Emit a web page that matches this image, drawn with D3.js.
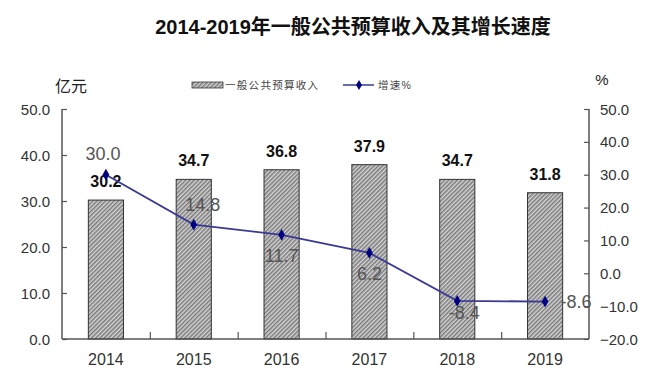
<!DOCTYPE html>
<html><head><meta charset="utf-8">
<script src="https://cdn.jsdelivr.net/npm/d3@7/dist/d3.min.js"></script>
<style>
html,body{margin:0;padding:0;background:#fff;}
svg{display:block;font-family:"Liberation Sans",Arial,"Noto Sans CJK SC",sans-serif;}
</style></head>
<body><svg id="c" width="659" height="381"></svg>
<script>
const years = ["2014","2015","2016","2017","2018","2019"];
const revenue = [30.2, 34.7, 36.8, 37.9, 34.7, 31.8];
const growth = [30.0, 14.8, 11.7, 6.2, -8.4, -8.6];
const leftTicks = [0, 10, 20, 30, 40, 50];
const rightTicks = [-20, -10, 0, 10, 20, 30, 40, 50];
const growthLabelPlace = ["above", "aboveRight", "below", "below", "belowRight", "right"];
const titleText = "2014-2019年一般公共预算收入及其增长速度";
const leftUnit = "亿元", rightUnit = "%";
const legendBar = "一般公共预算收入", legendLine = "增速%";

const svg = d3.select("#c");
const L = 62, R = 589, T = 109, B = 339;
const x = d3.scaleBand().domain(years).range([L, R]).paddingInner(0.6).paddingOuter(0.3);
const yL = d3.scaleLinear().domain([0, 50]).range([B, T]);
const yR = d3.scaleLinear().domain([-20, 50]).range([B, T]);
const cx = d => x(d) + x.bandwidth() / 2;

// pattern
const defs = svg.append("defs");
const pat = defs.append("pattern").attr("id", "hatch").attr("patternUnits", "userSpaceOnUse")
  .attr("width", 3).attr("height", 3).attr("patternTransform", "rotate(45)");
pat.append("rect").attr("width", 3).attr("height", 3).attr("fill", "#d4d4d4");
pat.append("rect").attr("width", 1.5).attr("height", 3).attr("fill", "#7a7a7a");

// title
svg.append("text").attr("x", 353).attr("y", 34).attr("text-anchor", "middle")
  .attr("font-size", 20).attr("font-weight", "bold").attr("fill", "#111").text(titleText);

// units
svg.append("text").attr("x", 55).attr("y", 92).attr("font-size", 16).attr("fill", "#222").text(leftUnit);
svg.append("text").attr("x", 602).attr("y", 85).attr("text-anchor", "middle").attr("font-size", 15).attr("fill", "#222").text(rightUnit);

// legend
svg.append("rect").attr("x", 192).attr("y", 82).attr("width", 31).attr("height", 6)
  .attr("fill", "url(#hatch)").attr("stroke", "#333").attr("stroke-width", 0.8);
svg.append("text").attr("x", 225).attr("y", 89).attr("font-size", 10.5).attr("letter-spacing", 1.3).attr("fill", "#444").text(legendBar);
svg.append("line").attr("x1", 343).attr("x2", 374).attr("y1", 85).attr("y2", 85).attr("stroke", "#3a3a94").attr("stroke-width", 1.5);
svg.append("path").attr("d", d3.symbol(d3.symbolDiamond, 30)()).attr("transform", "translate(359,85)").attr("fill", "#000080");
svg.append("text").attr("x", 378).attr("y", 89).attr("font-size", 10.5).attr("letter-spacing", 1.3).attr("fill", "#444").text(legendLine);

// bars
svg.selectAll("rect.bar").data(years).enter().append("rect").attr("class", "bar")
  .attr("x", d => x(d)).attr("width", x.bandwidth())
  .attr("y", (d, i) => yL(revenue[i])).attr("height", (d, i) => yL(0) - yL(revenue[i]))
  .attr("fill", "url(#hatch)").attr("stroke", "#333").attr("stroke-width", 1);

// axes
const axisColor = "#555";
const gL = svg.append("g").attr("transform", `translate(${L},0)`)
  .call(d3.axisRight(yL).tickValues(leftTicks).tickSize(5).tickFormat(""));
const gR = svg.append("g").attr("transform", `translate(${R},0)`)
  .call(d3.axisLeft(yR).tickValues(rightTicks).tickSize(5).tickFormat(""));
const gX = svg.append("g").attr("transform", `translate(0,${B})`)
  .call(d3.axisTop(d3.scaleLinear().domain([0, years.length]).range([L, R])).tickValues(d3.range(1, years.length)).tickSize(7).tickFormat(""));
[gL, gR, gX].forEach(g => {
  g.select(".domain").attr("stroke", axisColor).attr("stroke-width", 1.5);
  g.selectAll(".tick line").attr("stroke", axisColor).attr("stroke-width", 1.2);
});
gX.select(".domain").attr("d", `M${L},0H${R}`);
gL.select(".domain").attr("d", `M0,${T}V${B}`);
gR.select(".domain").attr("d", `M0,${T}V${B}`);

// tick labels
svg.selectAll("text.tl").data(leftTicks).enter().append("text").attr("class", "tl")
  .attr("x", 50).attr("y", d => yL(d) + 5.5).attr("text-anchor", "end")
  .attr("font-size", 15).attr("fill", "#333").text(d => d3.format(".1f")(d));
svg.selectAll("text.tr").data(rightTicks).enter().append("text").attr("class", "tr")
  .attr("x", 600).attr("y", d => yR(d) + 5.5).attr("text-anchor", "start")
  .attr("font-size", 15).attr("fill", "#333").text(d => d3.format(".1f")(d));
svg.selectAll("text.tx").data(years).enter().append("text").attr("class", "tx")
  .attr("x", d => cx(d)).attr("y", 365).attr("text-anchor", "middle")
  .attr("font-size", 16).attr("fill", "#333").text(d => d);

// bar labels
svg.selectAll("text.bl").data(years).enter().append("text").attr("class", "bl")
  .attr("x", d => cx(d)).attr("y", (d, i) => yL(revenue[i]) - 13).attr("text-anchor", "middle")
  .attr("font-size", 16).attr("font-weight", "bold").attr("fill", "#111").text((d, i) => revenue[i].toFixed(1));

// line
const line = d3.line().x(d => cx(d)).y((d, i) => yR(growth[i]));
svg.append("path").datum(years).attr("d", line).attr("fill", "none").attr("stroke", "#3a3a94").attr("stroke-width", 1.8);
svg.selectAll("path.mk").data(years).enter().append("path").attr("class", "mk")
  .attr("d", d3.symbol(d3.symbolDiamond, 40)())
  .attr("transform", (d, i) => `translate(${cx(d)},${yR(growth[i])})`).attr("fill", "#000080");

// line labels
const off = {above: [-3, -15], aboveRight: [9, -14], below: [0, 27], belowRight: [7, 18], right: [31, 6.5]};
svg.selectAll("text.gl").data(years).enter().append("text").attr("class", "gl")
  .attr("x", (d, i) => cx(d) + off[growthLabelPlace[i]][0])
  .attr("y", (d, i) => yR(growth[i]) + off[growthLabelPlace[i]][1])
  .attr("text-anchor", "middle").attr("font-size", 18).attr("fill", "#555")
  .text((d, i) => growth[i].toFixed(1));
</script></body></html>
